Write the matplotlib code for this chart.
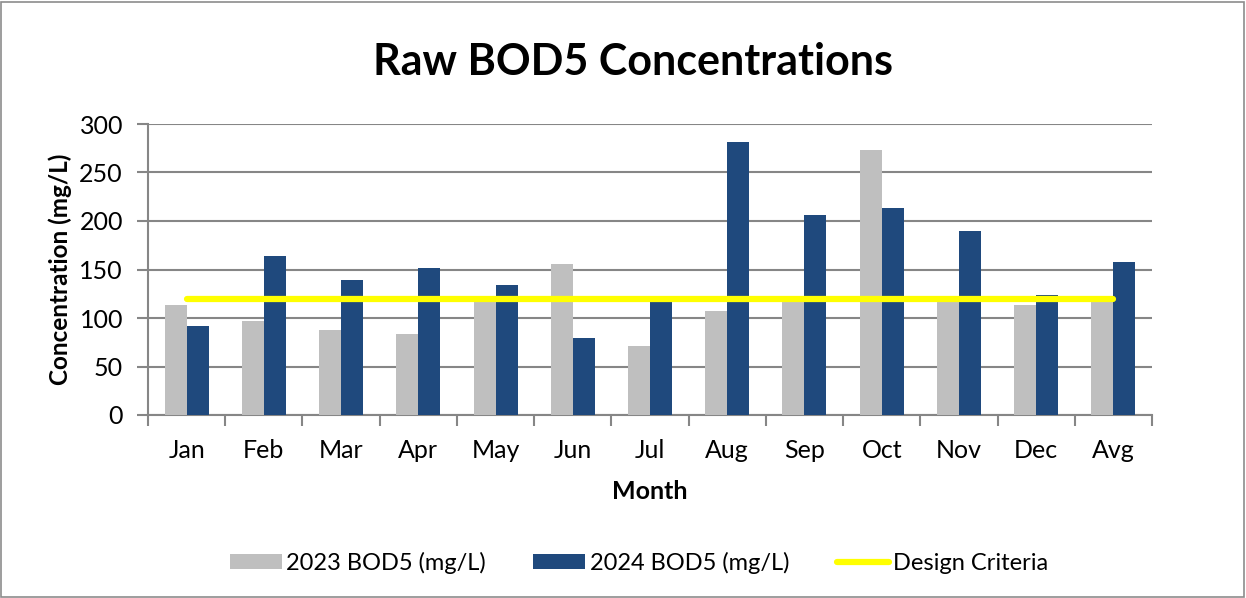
import matplotlib.pyplot as plt
import numpy as np
from matplotlib.patches import Rectangle

plt.rcParams['font.family'] = ['Lato', 'DejaVu Sans']

# data
months = ['Jan', 'Feb', 'Mar', 'Apr', 'May', 'Jun', 'Jul', 'Aug', 'Sep', 'Oct', 'Nov', 'Dec', 'Avg']
bod_2023 = [113, 97, 88, 84, 118, 156, 71, 107, 118, 273, 118, 113, 118]
bod_2024 = [92, 164, 139, 152, 134, 79, 119, 281, 206, 213, 190, 124, 158]
design_criteria = [120] * len(months)

fig = plt.figure(figsize=(12.46, 5.98), dpi=100)
fig.patches.append(Rectangle((0.001, 0.002), 0.997, 0.995, transform=fig.transFigure,
                             fill=False, edgecolor='#8c8c8c', linewidth=1.2))
ax = fig.add_axes([148 / 1246, 1 - 415 / 598, (1152 - 148) / 1246, (415 - 124) / 598])

x = np.arange(len(months))
w = 0.285
ax.bar(x - w / 2, bod_2023, w, color='#bfbfbf', label='2023 BOD5 (mg/L)', zorder=3)
ax.bar(x + w / 2, bod_2024, w, color='#1f497d', label='2024 BOD5 (mg/L)', zorder=3)
ax.plot(x, design_criteria, color='#ffff00', linewidth=4.5, solid_capstyle='round',
        label='Design Criteria', zorder=4)

ax.set_xlim(-0.5, len(months) - 0.5)
ax.set_ylim(0, 300)
ax.set_yticks(range(0, 301, 50))
ax.yaxis.grid(True, color='#868686', linewidth=1.5, zorder=0)
ax.set_axisbelow(True)

ax.set_xticks(x)
ax.set_xticklabels(months, fontsize=18)
ax.set_xticks(np.arange(-0.5, len(months), 1), minor=True)
ax.tick_params(axis='x', which='major', length=0, pad=17)
ax.tick_params(axis='x', which='minor', length=8, width=1.5, color='#868686')
ax.tick_params(axis='y', length=8, width=1.5, color='#868686', labelsize=18, pad=10)

for side in ['top', 'right']:
    ax.spines[side].set_visible(False)
for side in ['left', 'bottom']:
    ax.spines[side].set_color('#868686')
    ax.spines[side].set_linewidth(1.5)

ax.set_xlabel('Month', fontsize=18, fontweight='bold', labelpad=13)
ax.set_ylabel('Concentration (mg/L)', fontsize=17.5, fontweight='bold')
ax.yaxis.set_label_coords(60 / 1246, 1 - 269.5 / 598, transform=fig.transFigure)
ax.yaxis.label.set_va('center')
fig.text(633 / 1246, 1 - 62 / 598, 'Raw BOD5 Concentrations', fontsize=31,
         fontweight='bold', ha='center', va='center')

handles, labels = ax.get_legend_handles_labels()
order = [1, 2, 0]
fig.legend([handles[i] for i in order], [labels[i] for i in order], loc='center',
           bbox_to_anchor=(639 / 1246, 1 - 563 / 598), ncol=3, frameon=False,
           fontsize=17, handlelength=2.2, handleheight=0.6, handletextpad=0.2,
           columnspacing=2.0)

plt.savefig('out.png', dpi=100)
